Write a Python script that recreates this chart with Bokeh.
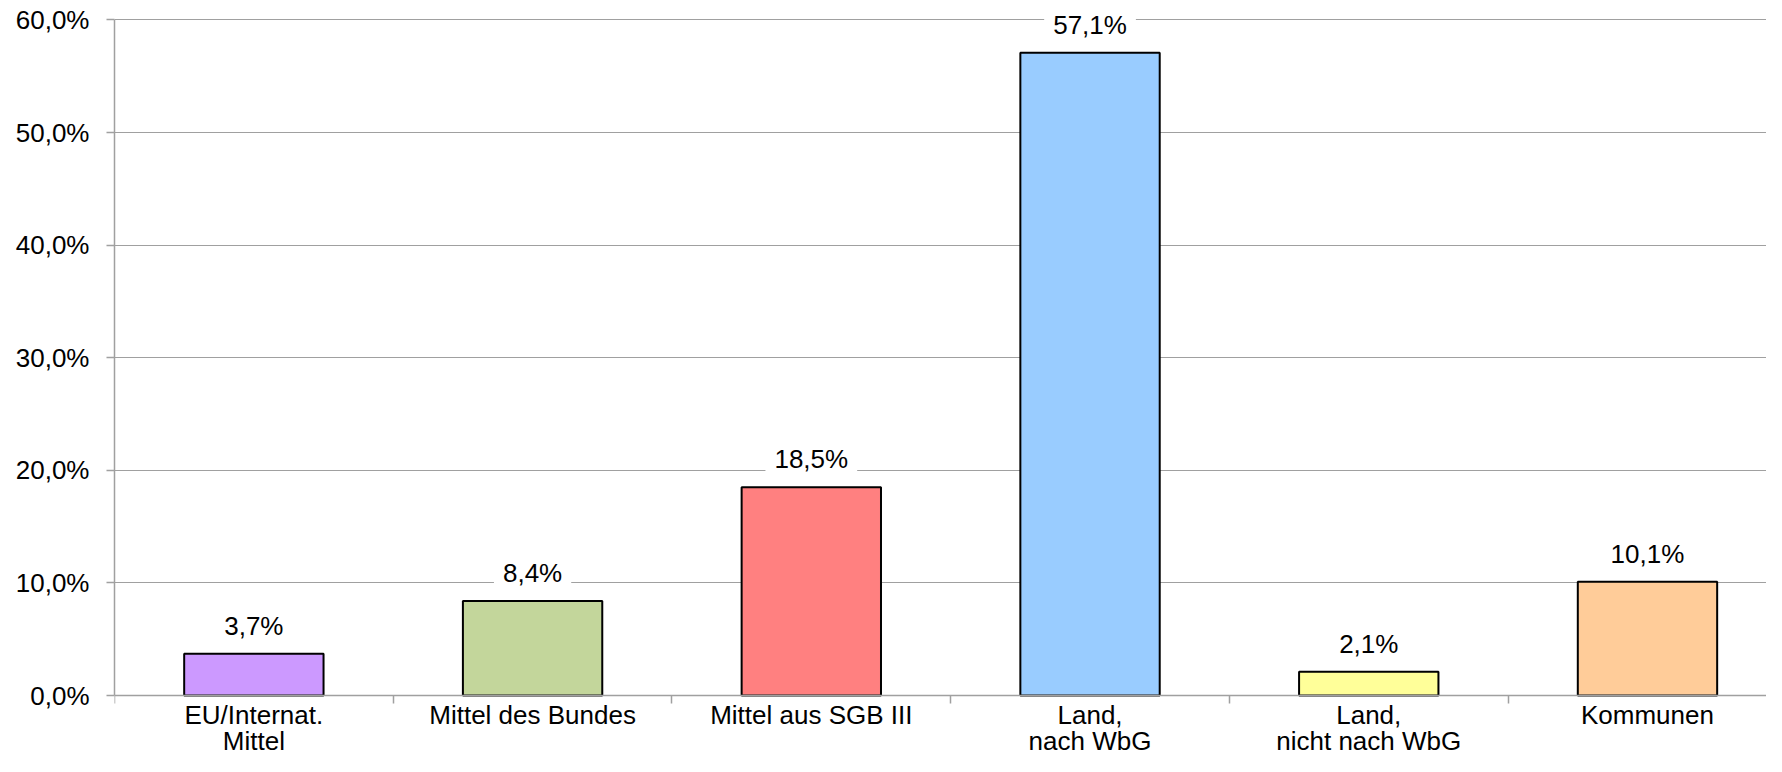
from bokeh.plotting import figure
from bokeh.models import Range1d, FixedTicker, Label, ColumnDataSource
from bokeh.embed import file_html
from bokeh.resources import INLINE

categories = ["EU/Internat.\nMittel", "Mittel des Bundes", "Mittel aus SGB III",
              "Land,\nnach WbG", "Land,\nnicht nach WbG", "Kommunen"]
values = [3.7, 8.4, 18.5, 57.1, 2.1, 10.1]
colors = ["#CC99FF", "#C3D69B", "#FF8080", "#99CCFF", "#FFFF99", "#FFCC99"]
y_ticks = [0, 10, 20, 30, 40, 50, 60]
y_tick_labels = ["0,0%", "10,0%", "20,0%", "30,0%", "40,0%", "50,0%", "60,0%"]

FONT = "Liberation Sans"
FS = "26px"
GRID = "#a0a0a0"

xs = list(range(len(categories)))
labels = [f"{v:.1f}".replace(".", ",") + "%" for v in values]

src = ColumnDataSource(dict(x=xs, top=values, color=colors, label=labels))

# frame covers the whole figure height so that the category labels and the
# top data label are drawn inside it; the axis sits at y = 0
p = figure(width=1766, height=756, output_backend="svg", toolbar_location=None,
           x_range=Range1d(-0.5, 5.427), y_range=Range1d(-5.418, 61.732),
           min_border_left=114, min_border_top=0, min_border_right=0,
           min_border_bottom=0)
p.outline_line_color = None
p.background_fill_color = "white"

p.vbar(x="x", top="top", width=0.5, fill_color="color", line_color="black",
       line_width=2, source=src)

# x axis: ticks at category boundaries, category names under each bar
xa = p.xaxis[0]
xa.fixed_location = 0
xa.ticker = FixedTicker(ticks=xs, minor_ticks=[i - 0.5 for i in range(len(categories) + 1)])
xa.major_label_overrides = {i: c for i, c in zip(xs, categories)}
xa.major_tick_out = 0
xa.major_tick_in = 0
xa.minor_tick_out = 8
xa.minor_tick_in = 0
xa.minor_tick_line_color = GRID
xa.minor_tick_line_width = 1.5
xa.axis_line_color = GRID
xa.axis_line_width = 1.5
xa.major_label_text_font = FONT
xa.major_label_text_font_size = FS
xa.major_label_text_color = "black"
xa.major_label_standoff = -4
xa.major_label_text_line_height = 0.88

# y axis
ya = p.yaxis[0]
ya.bounds = (0, 60)
ya.ticker = FixedTicker(ticks=y_ticks)
ya.major_label_overrides = {t: l for t, l in zip(y_ticks, y_tick_labels)}
ya.major_tick_out = 8
ya.major_tick_in = 0
ya.minor_tick_line_color = None
ya.major_tick_line_color = GRID
ya.major_tick_line_width = 1.5
ya.axis_line_color = GRID
ya.axis_line_width = 1.5
ya.major_label_text_font = FONT
ya.major_label_text_font_size = FS
ya.major_label_text_color = "black"
ya.major_label_standoff = 17

p.xgrid.grid_line_color = None
p.ygrid.grid_line_color = GRID
p.ygrid.grid_line_width = 1.2
p.ygrid.ticker = FixedTicker(ticks=y_ticks[1:])

for x, v, t in zip(xs, values, labels):
    p.add_layout(Label(x=x, y=v, text=t, y_offset=28, text_align="center",
                       text_baseline="alphabetic", text_font=FONT,
                       text_font_size=FS, text_color="black",
                       background_fill_color="white", padding=9))

open("out.html", "w").write(file_html(p, INLINE))
